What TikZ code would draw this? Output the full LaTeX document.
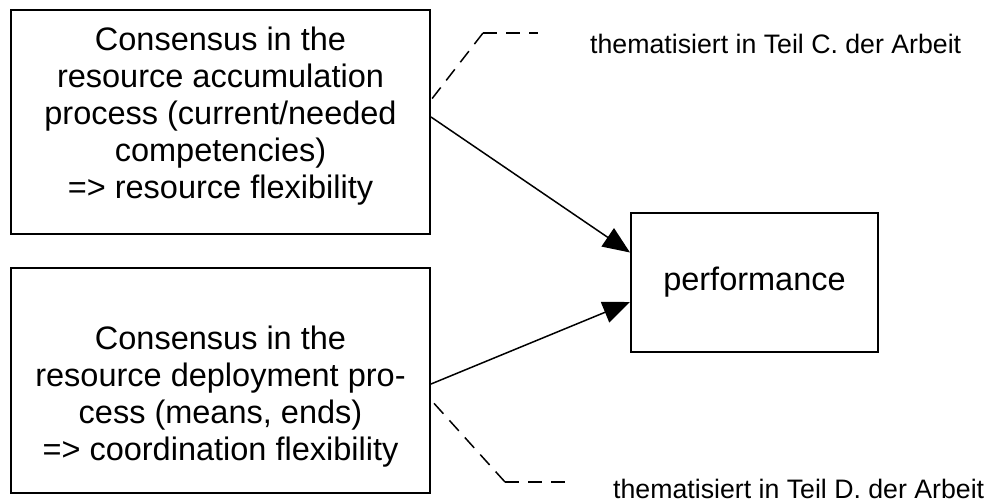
\documentclass[tikz,border=0pt]{standalone}
\usepackage{fontspec}
\setmainfont{Liberation Sans}
\usetikzlibrary{arrows.meta}
\begin{document}
\begin{tikzpicture}[x=1pt,y=-1pt,
  boxframe/.style={draw=black, line width=2pt, inner sep=0pt},
  boxtext/.style={inner sep=0pt, align=center, font=\fontsize{32.5}{37}\selectfont},
  conn/.style={line width=1.5pt, -{Triangle[length=27pt,width=22pt]}},
  dashconn/.style={line width=1.5pt, dash pattern=on 14pt off 9pt},
  note/.style={inner sep=0pt, anchor=base west, font=\fontsize{26.7}{30}\selectfont}]
\useasboundingbox (0,0) rectangle (990,503);
\node[boxframe, minimum width=419pt, minimum height=224pt] (acc) at (220.5,122) {};
\node[boxtext] (accT) at ([yshift=6pt]acc.center)
  {Consensus in the\\resource accumulation\\process (current/needed\\competencies)\\=> resource flexibility};
\node[boxframe, minimum width=419pt, minimum height=225pt] (dep) at (220.5,380.5) {};
\node[boxtext] (depT) at ([yshift=-16pt]dep.center)
  {Consensus in the\\resource deployment pro-\\cess (means, ends)\\=> coordination flexibility};
\node[boxframe, minimum width=247pt, minimum height=139pt, font=\fontsize{32.5}{37}\selectfont] (perf) at (754.5,282.5) {performance};
\node[note] (tC) at (590,53) {thematisiert in Teil C. der Arbeit};
\node[note] (tD) at (613,498) {thematisiert in Teil D. der Arbeit};
\coordinate (c1) at (483,33);
\coordinate (c2) at (538,33);
\coordinate (d1) at (505,482);
\coordinate (d2) at (568,482);
\draw[conn] ([yshift=5pt]acc.east) -- ([yshift=30pt]perf.west);
\draw[conn] ([yshift=-3.5pt]dep.east) -- ([yshift=-19.5pt]perf.west);
\draw[dashconn] (c1) -- ([yshift=22pt]acc.east);
\draw[dashconn] (c1) -- (c2);
\draw[dashconn] (d1) -- ([yshift=-19.5pt]dep.east);
\draw[dashconn] (d1) -- (d2);
\end{tikzpicture}
\end{document}
